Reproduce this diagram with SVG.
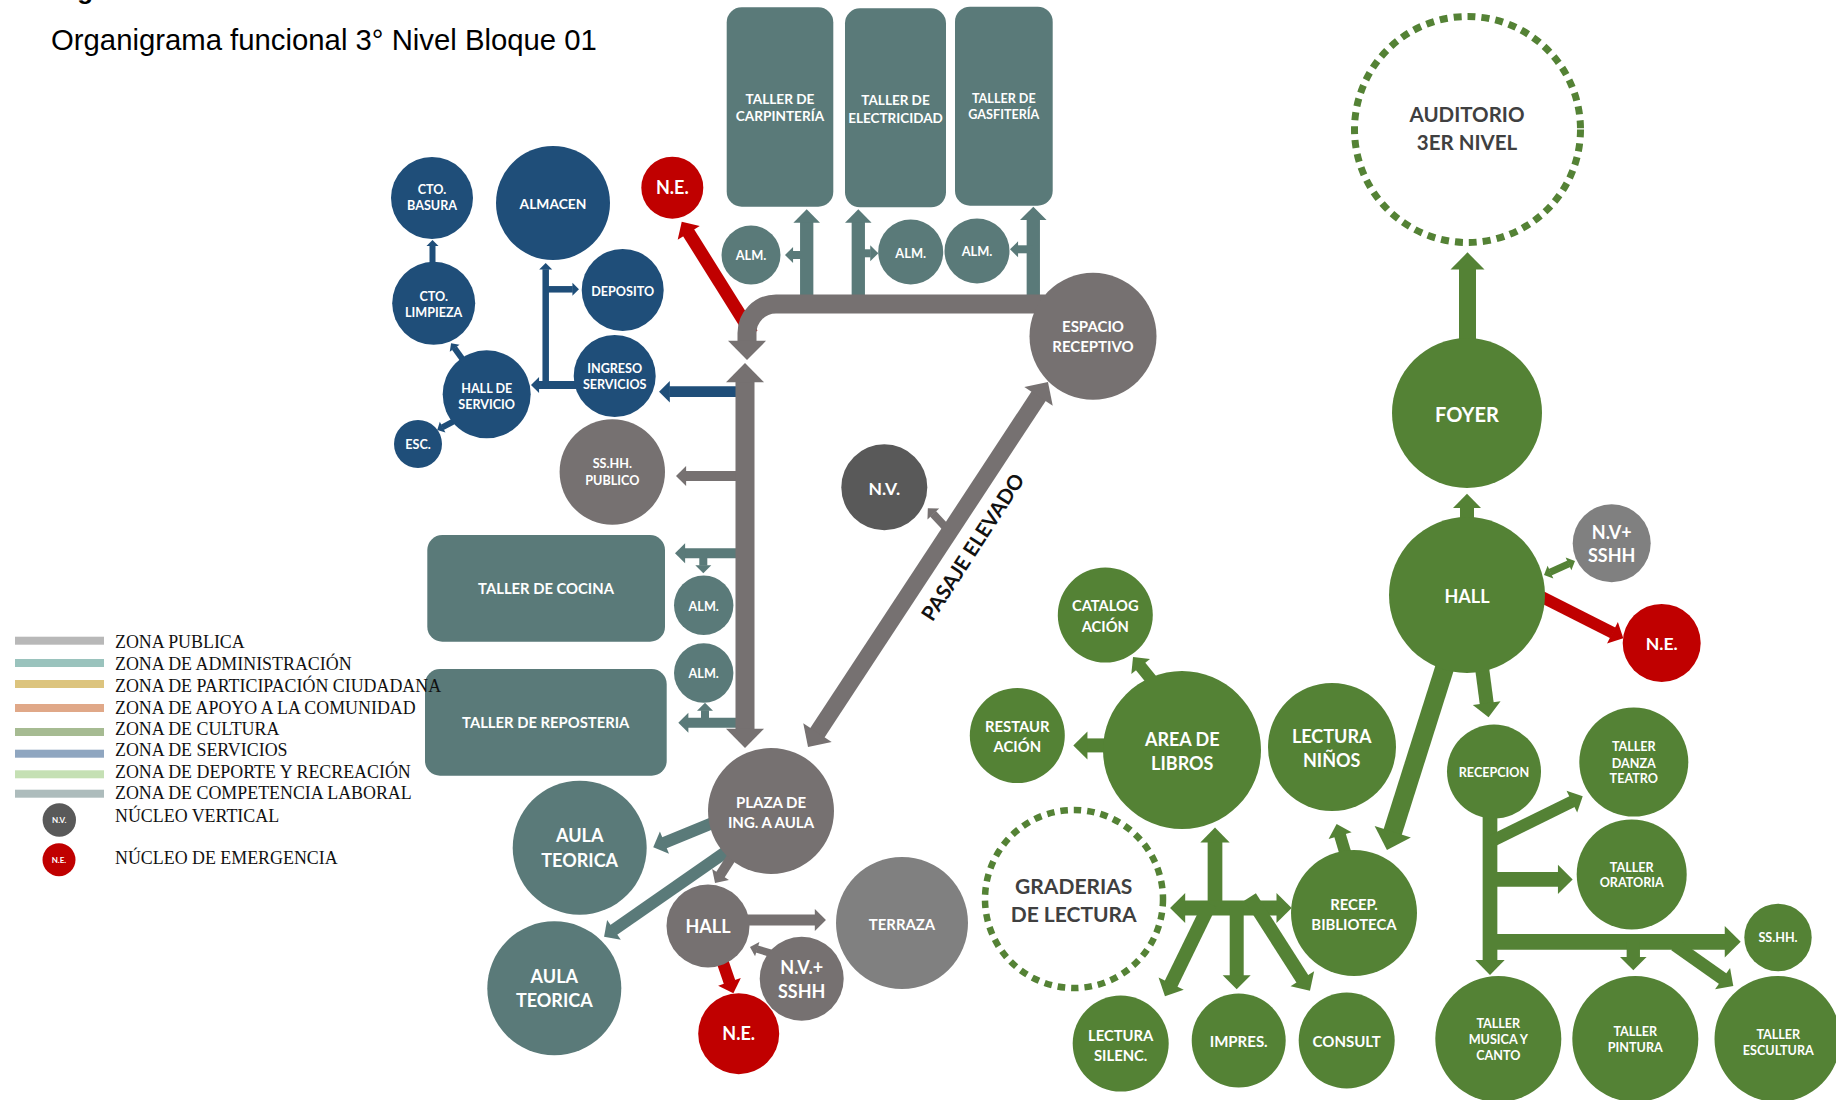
<svg xmlns="http://www.w3.org/2000/svg" width="1836" height="1100" viewBox="0 0 1836 1100">
<style>
.t{font-family:Lato,"Open Sans","DejaVu Sans",sans-serif;font-weight:700;fill:#fff;text-anchor:middle}
.s{font-size:12.6px}
.dk{fill:#404040}
.blue{fill:#1F4E79}.teal{fill:#5A7A79}.gray{fill:#767171}.lgray{fill:#808080}.dgray{fill:#595959}.red{fill:#C00000}.green{fill:#548235}
.dash{fill:none;stroke:#548235}
.c{fill:none;stroke-linecap:butt}
.cg{stroke:#767171;marker-end:url(#mg)}
.ct{stroke:#5A7A79;marker-end:url(#mt)}
.cb{stroke:#1F4E79;marker-end:url(#mb)}
.cr{stroke:#C00000;marker-end:url(#mr)}
.ce{stroke:#548235;marker-end:url(#me)}
.cg2{marker-start:url(#mg)}.ce2{marker-start:url(#me)}
.lg{font-family:"Liberation Serif","Times New Roman",serif;font-size:17.9px;fill:#111}
</style>
<defs>
<marker id="mg" viewBox="0 0 10 20" refX="0" refY="10" markerWidth="1" markerHeight="2" orient="auto-start-reverse" markerUnits="strokeWidth" overflow="visible"><path d="M-0.6,0 L9.5,10 L-0.6,20 z" fill="#767171"/></marker>
<marker id="mt" viewBox="0 0 10 20" refX="0" refY="10" markerWidth="1" markerHeight="2" orient="auto-start-reverse" markerUnits="strokeWidth" overflow="visible"><path d="M-0.6,0 L9.5,10 L-0.6,20 z" fill="#5A7A79"/></marker>
<marker id="mb" viewBox="0 0 10 20" refX="0" refY="10" markerWidth="1" markerHeight="2" orient="auto-start-reverse" markerUnits="strokeWidth" overflow="visible"><path d="M-0.6,0 L9.5,10 L-0.6,20 z" fill="#1F4E79"/></marker>
<marker id="mr" viewBox="0 0 10 20" refX="0" refY="10" markerWidth="1" markerHeight="2" orient="auto-start-reverse" markerUnits="strokeWidth" overflow="visible"><path d="M-0.6,0 L9.5,10 L-0.6,20 z" fill="#C00000"/></marker>
<marker id="me" viewBox="0 0 10 20" refX="0" refY="10" markerWidth="1" markerHeight="2" orient="auto-start-reverse" markerUnits="strokeWidth" overflow="visible"><path d="M-0.6,0 L9.5,10 L-0.6,20 z" fill="#548235"/></marker>
</defs>
<rect width="1836" height="1100" fill="#fff"/>
<text x="47" y="-1.2" font-family="Liberation Sans,Arial,sans-serif" font-weight="700" font-size="26" fill="#000">Org</text>
<text x="51" y="50" font-family="Liberation Sans,Arial,sans-serif" font-size="29.3" fill="#000">Organigrama funcional 3° Nivel Bloque 01</text>

<g id="connectors">
<line class="c cr" x1="752" y1="334" x2="688.3" y2="232.2" stroke-width="13"/>
<line class="c cr" x1="722" y1="960" x2="729.7" y2="982.5" stroke-width="12"/>
<line class="c cr" x1="1530" y1="591" x2="1613.1" y2="633" stroke-width="12"/>
<line class="c cb" x1="745" y1="391.7" x2="669.2" y2="391.7" stroke-width="10.7"/>
<line class="c cb" x1="585" y1="385" x2="538.6" y2="385" stroke-width="8"/>
<line class="c cb" x1="545.7" y1="389" x2="545.7" y2="269.2" stroke-width="6.5"/>
<line class="c cb" x1="545.7" y1="289.3" x2="572.8" y2="289.3" stroke-width="6.5"/>
<line class="c cb" x1="432.5" y1="265" x2="432.5" y2="245.7" stroke-width="6"/>
<line class="c cb" x1="466" y1="364" x2="454.4" y2="347.9" stroke-width="6"/>
<line class="c cb" x1="458" y1="419" x2="442.3" y2="427.3" stroke-width="6"/>
<line class="c ct" x1="806.7" y1="304" x2="806.7" y2="221.9" stroke-width="13.3"/>
<line class="c ct" x1="806" y1="255" x2="792.6" y2="255" stroke-width="8"/>
<line class="c ct" x1="858.3" y1="304" x2="858.3" y2="221.9" stroke-width="13.3"/>
<line class="c ct" x1="858" y1="253.3" x2="870.7" y2="253.3" stroke-width="8"/>
<line class="c ct" x1="1033.3" y1="304" x2="1033.3" y2="219.3" stroke-width="13.3"/>
<line class="c ct" x1="1033" y1="249.3" x2="1017.6" y2="249.3" stroke-width="8"/>
<line class="c ct" x1="745" y1="553.3" x2="684.5" y2="553.3" stroke-width="10"/>
<line class="c ct" x1="703.3" y1="553" x2="703.3" y2="565.7" stroke-width="8"/>
<line class="c ct" x1="745" y1="722.7" x2="687.8" y2="722.7" stroke-width="10"/>
<line class="c ct" x1="705" y1="723" x2="705" y2="710.3" stroke-width="8"/>
<line class="c ct" x1="715" y1="822" x2="663.8" y2="843" stroke-width="12"/>
<line class="c ct" x1="730" y1="849" x2="613.4" y2="930.2" stroke-width="12"/>
<line class="c ce" x1="1467.5" y1="340" x2="1467.5" y2="268.5" stroke-width="17"/>
<line class="c ce" x1="1467" y1="520" x2="1467" y2="507.1" stroke-width="14"/>
<line class="c ce ce2" x1="1550.1" y1="572.2" x2="1568.9" y2="563.8" stroke-width="7"/>
<line class="c ce" x1="1462" y1="613" x2="1392.4" y2="832.8" stroke-width="19"/>
<line class="c ce" x1="1481" y1="660" x2="1486.8" y2="704" stroke-width="14"/>
<line class="c ce" x1="1490" y1="815" x2="1490" y2="961" stroke-width="14.7"/>
<line class="c ce" x1="1490" y1="842" x2="1572.5" y2="801.3" stroke-width="12"/>
<line class="c ce" x1="1490" y1="879.4" x2="1558.8" y2="879.4" stroke-width="14.6"/>
<line class="c ce" x1="1490" y1="941.8" x2="1725.7" y2="941.8" stroke-width="15.8"/>
<line class="c ce" x1="1633.3" y1="942" x2="1633.3" y2="957.7" stroke-width="13.3"/>
<line class="c ce" x1="1675" y1="945" x2="1723.2" y2="979" stroke-width="13"/>
<line class="c ce" x1="1152" y1="680.5" x2="1140.2" y2="665.9" stroke-width="12"/>
<line class="c ce" x1="1110" y1="745.4" x2="1086.6" y2="745.4" stroke-width="14"/>
<line class="c ce" x1="1215" y1="915" x2="1215" y2="841.5" stroke-width="14.7"/>
<line class="c ce ce2" x1="1184.3" y1="908" x2="1277.4" y2="908" stroke-width="15"/>
<line class="c ce" x1="1210" y1="904" x2="1170.8" y2="984.4" stroke-width="14"/>
<line class="c ce" x1="1236.7" y1="908" x2="1236.7" y2="976" stroke-width="14"/>
<line class="c ce" x1="1250" y1="897" x2="1302.8" y2="979.5" stroke-width="14"/>
<line class="c ce" x1="1348" y1="862" x2="1339.9" y2="834.9" stroke-width="12"/>
<line class="c cg" x1="745" y1="476" x2="685.5" y2="476" stroke-width="10"/>
<line class="c cg" x1="950" y1="532" x2="933" y2="513.7" stroke-width="8"/>
<line class="c cg" x1="735" y1="852" x2="720.2" y2="875" stroke-width="10"/>
<line class="c cg" x1="745" y1="920" x2="815.5" y2="920" stroke-width="11"/>
<line class="c cg" x1="772" y1="953.6" x2="756.8" y2="949" stroke-width="7.5"/>
<path class="c cg" d="M1045,304 H776 A29,29 0 0 0 747,333 V342" stroke-width="19"/>
<line class="c cg cg2" x1="745" y1="381" x2="745" y2="730" stroke-width="19"/>
<line class="c cg cg2" x1="816.9" y1="733.5" x2="1039.1" y2="395.5" stroke-width="17"/>
<text x="0" y="0" transform="translate(979,551) rotate(-57)" font-family="Lato,'Open Sans',sans-serif" font-weight="700" font-size="20.5" fill="#111" text-anchor="middle">PASAJE ELEVADO</text>
</g>

<g id="n-taller-carpinteria"><rect class="teal" x="726.7" y="7.3" width="106.6" height="199.4" rx="15"/><text class="t" font-size="13.6"><tspan x="780" y="104">TALLER DE</tspan><tspan x="780" y="121.3">CARPINTERÍA</tspan></text></g>
<g id="n-taller-electricidad"><rect class="teal" x="845" y="8.3" width="101" height="199" rx="15"/><text class="t" font-size="13.5"><tspan x="895.5" y="105">TALLER DE</tspan><tspan x="895.5" y="122.7">ELECTRICIDAD</tspan></text></g>
<g id="n-taller-gasfiteria"><rect class="teal" x="955" y="6.7" width="97.7" height="199" rx="15"/><text class="t s"><tspan x="1003.8" y="103">TALLER DE</tspan><tspan x="1003.8" y="119">GASFITERÍA</tspan></text></g>
<g id="n-alm-1"><circle class="teal" cx="751" cy="255" r="29.5"/><text class="t" font-size="12.8" x="751" y="260">ALM.</text></g>
<g id="n-alm-2"><circle class="teal" cx="910.7" cy="252" r="32.5"/><text class="t" font-size="12.8" x="910.7" y="257.7">ALM.</text></g>
<g id="n-alm-3"><circle class="teal" cx="977" cy="251" r="32.5"/><text class="t" font-size="12.8" x="977" y="256">ALM.</text></g>
<g id="n-espacio-receptivo"><circle class="gray" cx="1093" cy="336.3" r="63.5"/><text class="t" font-size="15"><tspan x="1093" y="331.7">ESPACIO</tspan><tspan x="1093" y="352.3">RECEPTIVO</tspan></text></g>
<g id="n-ne-top"><circle class="red" cx="672.3" cy="187.7" r="31"/><text class="t" font-size="18" x="672.3" y="194">N.E.</text></g>

<g id="n-cto-basura"><circle class="blue" cx="432" cy="198" r="41"/><text class="t s"><tspan x="432" y="194.3">CTO.</tspan><tspan x="432" y="210.3">BASURA</tspan></text></g>
<g id="n-almacen"><circle class="blue" cx="553" cy="203" r="57"/><text class="t" font-size="13.8" x="553" y="209.3">ALMACEN</text></g>
<g id="n-deposito"><circle class="blue" cx="622.7" cy="290" r="41"/><text class="t s" x="622.7" y="295.7">DEPOSITO</text></g>
<g id="n-cto-limpieza"><circle class="blue" cx="433.7" cy="303.3" r="41.5"/><text class="t s"><tspan x="433.7" y="300.7">CTO.</tspan><tspan x="433.7" y="316.7">LIMPIEZA</tspan></text></g>
<g id="n-hall-servicio"><circle class="blue" cx="486.7" cy="394.3" r="44"/><text class="t s"><tspan x="486.7" y="393.3">HALL DE</tspan><tspan x="486.7" y="408.7">SERVICIO</tspan></text></g>
<g id="n-ingreso-servicios"><circle class="blue" cx="614.7" cy="376" r="41"/><text class="t s"><tspan x="614.7" y="373.3">INGRESO</tspan><tspan x="614.7" y="389.3">SERVICIOS</tspan></text></g>
<g id="n-esc"><circle class="blue" cx="418" cy="444" r="24"/><text class="t s" x="418" y="449">ESC.</text></g>
<g id="n-sshh-publico"><circle class="gray" cx="612.3" cy="472" r="52.7"/><text class="t s"><tspan x="612.3" y="468.3">SS.HH.</tspan><tspan x="612.3" y="484.5">PUBLICO</tspan></text></g>
<g id="n-nv"><circle class="dgray" cx="884.3" cy="487.3" r="43"/><text class="t" font-size="17.5" x="884.3" y="495">N.V.</text></g>

<g id="n-taller-cocina"><rect class="teal" x="427.3" y="535" width="237.7" height="106.7" rx="15"/><text class="t" font-size="14.8" x="546" y="594">TALLER DE COCINA</text></g>
<g id="n-taller-reposteria"><rect class="teal" x="425" y="669" width="241.7" height="106.7" rx="15"/><text class="t" font-size="14.8" x="545.7" y="728.3">TALLER DE REPOSTERIA</text></g>
<g id="n-alm-cocina"><circle class="teal" cx="703.7" cy="605.3" r="29.7"/><text class="t s" x="703.7" y="610.7">ALM.</text></g>
<g id="n-alm-reposteria"><circle class="teal" cx="703.7" cy="673" r="29.7"/><text class="t s" x="703.7" y="678.3">ALM.</text></g>
<g id="n-plaza"><circle class="gray" cx="771" cy="811" r="63"/><text class="t" font-size="15"><tspan x="771" y="807.7">PLAZA DE</tspan><tspan x="771" y="828.3">ING. A AULA</tspan></text></g>
<g id="n-aula-1"><circle class="teal" cx="579.7" cy="847.7" r="67"/><text class="t" font-size="18"><tspan x="579.7" y="842.3">AULA</tspan><tspan x="579.7" y="866.7">TEORICA</tspan></text></g>
<g id="n-aula-2"><circle class="teal" cx="554.3" cy="988.3" r="67"/><text class="t" font-size="18"><tspan x="554.3" y="982.7">AULA</tspan><tspan x="554.3" y="1006.7">TEORICA</tspan></text></g>
<g id="n-hall-bottom"><circle class="gray" cx="708" cy="926" r="41.5"/><text class="t" font-size="18" x="708" y="932.7">HALL</text></g>
<g id="n-terraza"><circle class="lgray" cx="902" cy="923" r="66"/><text class="t" font-size="14.9" x="902" y="930">TERRAZA</text></g>
<g id="n-nv-sshh-bottom"><circle class="gray" cx="801.7" cy="978.7" r="42"/><text class="t" font-size="18"><tspan x="801.7" y="974">N.V.+</tspan><tspan x="801.7" y="997.7">SSHH</tspan></text></g>
<g id="n-ne-bottom"><circle class="red" cx="738.7" cy="1033.7" r="40.5"/><text class="t" font-size="18" x="738.7" y="1040">N.E.</text></g>

<g id="n-auditorio"><circle class="dash" cx="1467.5" cy="129.5" r="113" stroke-width="7" stroke-dasharray="8 6"/><text class="t dk" font-size="20.5"><tspan x="1467" y="121.7">AUDITORIO</tspan><tspan x="1467" y="150">3ER NIVEL</tspan></text></g>
<g id="n-foyer"><circle class="green" cx="1467" cy="413" r="75"/><text class="t" font-size="20" x="1467" y="421.7">FOYER</text></g>
<g id="n-hall-green"><circle class="green" cx="1467" cy="595" r="78"/><text class="t" font-size="18" x="1467" y="602.6">HALL</text></g>
<g id="n-nv-sshh-right"><circle class="lgray" cx="1611.7" cy="543.3" r="39"/><text class="t" font-size="18"><tspan x="1611.7" y="538.5">N.V+</tspan><tspan x="1611.7" y="562.2">SSHH</tspan></text></g>
<g id="n-ne-right"><circle class="red" cx="1661.7" cy="642.9" r="39"/><text class="t" font-size="17.6" x="1661.7" y="650">N.E.</text></g>
<g id="n-recepcion"><circle class="green" cx="1494" cy="771.6" r="47"/><text class="t s" x="1494" y="776.6">RECEPCION</text></g>
<g id="n-danza"><circle class="green" cx="1633.8" cy="762.1" r="54.5"/><text class="t s"><tspan x="1633.8" y="750.9">TALLER</tspan><tspan x="1633.8" y="767.5">DANZA</tspan><tspan x="1633.8" y="783.3">TEATRO</tspan></text></g>
<g id="n-oratoria"><circle class="green" cx="1631.7" cy="874.4" r="55"/><text class="t s"><tspan x="1631.7" y="871.5">TALLER</tspan><tspan x="1631.7" y="887.3">ORATORIA</tspan></text></g>
<g id="n-sshh-right"><circle class="green" cx="1778" cy="937.5" r="33.7"/><text class="t s" x="1778" y="941.8">SS.HH.</text></g>
<g id="n-musica"><circle class="green" cx="1498.3" cy="1039" r="63"/><text class="t s"><tspan x="1498.3" y="1028.4">TALLER</tspan><tspan x="1498.3" y="1044.2">MUSICA Y</tspan><tspan x="1498.3" y="1060">CANTO</tspan></text></g>
<g id="n-pintura"><circle class="green" cx="1635.3" cy="1039" r="63"/><text class="t s"><tspan x="1635.3" y="1036.3">TALLER</tspan><tspan x="1635.3" y="1052.2">PINTURA</tspan></text></g>
<g id="n-escultura"><circle class="green" cx="1777.5" cy="1039" r="63"/><text class="t s"><tspan x="1778.3" y="1038.7">TALLER</tspan><tspan x="1778.3" y="1054.5">ESCULTURA</tspan></text></g>

<g id="n-catalogacion"><circle class="green" cx="1105.3" cy="615" r="47.5"/><text class="t" font-size="14.7"><tspan x="1105.3" y="611.4">CATALOG</tspan><tspan x="1105.3" y="631.8">ACIÓN</tspan></text></g>
<g id="n-restauracion"><circle class="green" cx="1017.3" cy="735.5" r="47.5"/><text class="t" font-size="14.8"><tspan x="1017.3" y="731.8">RESTAUR</tspan><tspan x="1017.3" y="751.8">ACIÓN</tspan></text></g>
<g id="n-area-libros"><circle class="green" cx="1182" cy="750" r="79"/><text class="t" font-size="18"><tspan x="1182.3" y="746.4">AREA DE</tspan><tspan x="1182.3" y="770.4">LIBROS</tspan></text></g>
<g id="n-lectura-ninos"><circle class="green" cx="1332" cy="747" r="64"/><text class="t" font-size="18"><tspan x="1331.7" y="742.9">LECTURA</tspan><tspan x="1331.7" y="767.1">NIÑOS</tspan></text></g>
<g id="n-graderias"><circle class="dash" cx="1074" cy="899" r="89" stroke-width="6.5" stroke-dasharray="7.5 6"/><text class="t dk" font-size="21"><tspan x="1073.7" y="893.6">GRADERIAS</tspan><tspan x="1073.7" y="922.1">DE LECTURA</tspan></text></g>
<g id="n-recep-biblioteca"><circle class="green" cx="1354" cy="913" r="63"/><text class="t" font-size="14.9"><tspan x="1354" y="910.4">RECEP.</tspan><tspan x="1354" y="930">BIBLIOTECA</tspan></text></g>
<g id="n-lectura-silenc"><circle class="green" cx="1120.7" cy="1043.6" r="48"/><text class="t" font-size="14.8"><tspan x="1120.7" y="1040.7">LECTURA</tspan><tspan x="1120.7" y="1060.7">SILENC.</tspan></text></g>
<g id="n-impres"><circle class="green" cx="1238.7" cy="1040.5" r="47"/><text class="t" font-size="15" x="1238.7" y="1047">IMPRES.</text></g>
<g id="n-consult"><circle class="green" cx="1346.7" cy="1040.5" r="48"/><text class="t" font-size="15" x="1346.7" y="1047">CONSULT</text></g>

<g id="legend">
<rect x="15" y="636.7" width="89" height="8" fill="#B8B8B8"/>
<rect x="15" y="659" width="89" height="8" fill="#9AC3BD"/>
<rect x="15" y="680" width="89" height="8" fill="#DCC47E"/>
<rect x="15" y="704" width="89" height="8" fill="#E0A888"/>
<rect x="15" y="728" width="89" height="8" fill="#A6BB92"/>
<rect x="15" y="749.7" width="89" height="8" fill="#8FA6C0"/>
<rect x="15" y="770.3" width="89" height="8" fill="#C5E0B4"/>
<rect x="15" y="789.7" width="89" height="8" fill="#ADBCBC"/>
<text class="lg" x="115" y="648.3">ZONA PUBLICA</text>
<text class="lg" x="115" y="670">ZONA DE ADMINISTRACIÓN</text>
<text class="lg" x="115" y="691.7">ZONA DE PARTICIPACIÓN CIUDADANA</text>
<text class="lg" x="115" y="714">ZONA DE APOYO A LA COMUNIDAD</text>
<text class="lg" x="115" y="735">ZONA DE CULTURA</text>
<text class="lg" x="115" y="756">ZONA DE SERVICIOS</text>
<text class="lg" x="115" y="777.7">ZONA DE DEPORTE Y RECREACIÓN</text>
<text class="lg" x="115" y="799.3">ZONA DE COMPETENCIA LABORAL</text>
<circle cx="59.3" cy="820" r="16.7" fill="#595959"/><text class="t" font-size="8" x="59.3" y="823">N.V.</text>
<circle cx="59" cy="859.7" r="16.5" fill="#C00000"/><text class="t" font-size="8" x="59" y="862.7">N.E.</text>
<text class="lg" x="115" y="821.7">NÚCLEO VERTICAL</text>
<text class="lg" x="115" y="864">NÚCLEO DE EMERGENCIA</text>
</g>
</svg>
